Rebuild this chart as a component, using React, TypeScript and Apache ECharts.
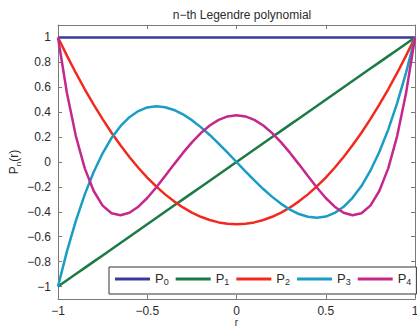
import React, { useEffect, useRef } from "react";
import * as echarts from "echarts";

const xs = [-1, -0.95, -0.9, -0.85, -0.8, -0.75, -0.7, -0.65, -0.6, -0.55, -0.5, -0.45, -0.4, -0.35, -0.3, -0.25, -0.2, -0.15, -0.1, -0.05, 0, 0.05, 0.1, 0.15, 0.2, 0.25, 0.3, 0.35, 0.4, 0.45, 0.5, 0.55, 0.6, 0.65, 0.7, 0.75, 0.8, 0.85, 0.9, 0.95, 1];
const p0 = [1, 1, 1, 1, 1, 1, 1, 1, 1, 1, 1, 1, 1, 1, 1, 1, 1, 1, 1, 1, 1, 1, 1, 1, 1, 1, 1, 1, 1, 1, 1, 1, 1, 1, 1, 1, 1, 1, 1, 1, 1];
const p1 = [-1, -0.95, -0.9, -0.85, -0.8, -0.75, -0.7, -0.65, -0.6, -0.55, -0.5, -0.45, -0.4, -0.35, -0.3, -0.25, -0.2, -0.15, -0.1, -0.05, 0, 0.05, 0.1, 0.15, 0.2, 0.25, 0.3, 0.35, 0.4, 0.45, 0.5, 0.55, 0.6, 0.65, 0.7, 0.75, 0.8, 0.85, 0.9, 0.95, 1];
const p2 = [1, 0.854, 0.715, 0.584, 0.46, 0.344, 0.235, 0.134, 0.04, -0.046, -0.125, -0.196, -0.26, -0.316, -0.365, -0.406, -0.44, -0.466, -0.485, -0.496, -0.5, -0.496, -0.485, -0.466, -0.44, -0.406, -0.365, -0.316, -0.26, -0.196, -0.125, -0.046, 0.04, 0.134, 0.235, 0.344, 0.46, 0.584, 0.715, 0.854, 1];
const p3 = [-1, -0.718, -0.473, -0.26, -0.08, 0.07, 0.193, 0.288, 0.36, 0.409, 0.438, 0.447, 0.44, 0.418, 0.383, 0.336, 0.28, 0.217, 0.148, 0.075, 0, -0.075, -0.148, -0.217, -0.28, -0.336, -0.383, -0.418, -0.44, -0.447, -0.438, -0.409, -0.36, -0.288, -0.193, -0.07, 0.08, 0.26, 0.473, 0.718, 1];
const p4 = [1, 0.554, 0.208, -0.051, -0.233, -0.35, -0.412, -0.428, -0.408, -0.359, -0.289, -0.205, -0.113, -0.019, 0.073, 0.158, 0.232, 0.293, 0.338, 0.366, 0.375, 0.366, 0.338, 0.293, 0.232, 0.158, 0.073, -0.019, -0.113, -0.205, -0.289, -0.359, -0.408, -0.428, -0.412, -0.35, -0.233, -0.051, 0.208, 0.554, 1];

const seriesNames = ["P0", "P1", "P2", "P3", "P4"];
const seriesData = [p0, p1, p2, p3, p4];
const colors = ["#3a3a9c", "#1b7a46", "#f22a1e", "#1a9cc4", "#c4288a"];
const yTicks = [-1, -0.8, -0.6, -0.4, -0.2, 0, 0.2, 0.4, 0.6, 0.8, 1];

const FONT = "'Liberation Sans', Arial, Helvetica, sans-serif";
const TXT = "#2b2b2b";
const AX = "#7a7a7a";

const fmt = (v: number) => (v === 0 ? "0" : String(v).replace("-", "\u2212"));

export default function App() {
  const ref = useRef<HTMLDivElement>(null);
  useEffect(() => {
    if (!ref.current) return;
    const chart = echarts.init(ref.current, null, { renderer: "svg" });
    const xBase = {
      type: "value" as const,
      min: -1,
      max: 1,
      interval: 0.5,
      splitLine: { show: false },
      axisLine: { show: true, onZero: false, lineStyle: { color: AX, width: 1 } },
      axisTick: { show: true, inside: true, length: 4, lineStyle: { color: AX } },
    };
    const yBase = {
      type: "value" as const,
      min: -1.1,
      max: 1.1,
      splitLine: { show: false },
      axisLine: { show: true, onZero: false, lineStyle: { color: AX, width: 1 } },
      axisTick: { show: true, inside: true, length: 4, customValues: yTicks, lineStyle: { color: AX } },
    };
    chart.setOption({
      animation: false,
      backgroundColor: "#ffffff",
      textStyle: { fontFamily: FONT },
      title: {
        text: "n\u2212th Legendre polynomial",
        left: 237,
        textAlign: "center",
        top: 4,
        textStyle: { fontFamily: FONT, fontSize: 12, fontWeight: "normal", color: TXT },
      },
      grid: { left: 58, right: 2, top: 25, bottom: 27, outerBoundsMode: "none", containLabel: false },
      legend: {
        data: seriesNames,
        left: 109,
        top: 267,
        width: 306,
        orient: "horizontal",
        icon: "rect",
        itemWidth: 35,
        itemHeight: 3,
        itemGap: 7,
        padding: [5, 5, 5, 6],
        borderColor: "#333",
        borderWidth: 1,
        borderRadius: 0,
        backgroundColor: "#ffffff",
        formatter: (name: string) => `{a|P}{b|${name.slice(1)}}`,
        textStyle: {
          fontFamily: FONT,
          color: TXT,
          rich: {
            a: { fontSize: 13, fontFamily: FONT, color: TXT, lineHeight: 14, padding: [0, 0, 4, 0], verticalAlign: "top" },
            b: { fontSize: 9, fontFamily: FONT, color: TXT, lineHeight: 9, verticalAlign: "bottom" },
          },
        },
      },
      xAxis: [
        {
          ...xBase,
          position: "bottom",
          name: "r",
          nameLocation: "middle",
          nameGap: 18,
          nameMoveOverlap: false,
          nameTextStyle: { fontFamily: FONT, fontSize: 10, lineHeight: 10, color: TXT },
          axisLabel: { show: true, margin: 6, fontSize: 12, lineHeight: 12, fontFamily: FONT, color: TXT, formatter: (v: number) => fmt(v), showMinLabel: true, showMaxLabel: true, hideOverlap: false },
        },
        { ...xBase, position: "top", axisLabel: { show: false } },
      ],
      yAxis: [
        {
          ...yBase,
          position: "left",
          name: "{a|P}{b|n}{a|(r)}",
          nameLocation: "middle",
          nameRotate: 90,
          nameGap: 36,
          nameMoveOverlap: false,
          nameTextStyle: {
            fontFamily: FONT,
            color: TXT,
            rich: {
              a: { fontSize: 12, fontFamily: FONT, color: TXT, lineHeight: 14, padding: [0, 0, 3, 0], verticalAlign: "top" },
              b: { fontSize: 8, fontFamily: FONT, color: TXT, lineHeight: 8, verticalAlign: "bottom" },
            },
          },
          axisLabel: { show: true, margin: 7, fontSize: 12, fontFamily: FONT, color: TXT, formatter: (v: number) => fmt(v), customValues: yTicks },
        },
        { ...yBase, position: "right", axisLabel: { show: false } },
      ],
      series: seriesNames.map((name, i) => ({
        name,
        type: "line",
        xAxisIndex: 0,
        yAxisIndex: 0,
        showSymbol: false,
        symbol: "none",
        smooth: false,
        data: xs.map((x, j) => [x, seriesData[i][j]]),
        lineStyle: { color: colors[i], width: 2.5 },
        itemStyle: { color: colors[i] },
        z: 2 + i,
      })),
    });
    return () => chart.dispose();
  }, []);
  return <div ref={ref} style={{ width: 417, height: 326, position: "absolute", left: 0, top: 0 }} />;
}
